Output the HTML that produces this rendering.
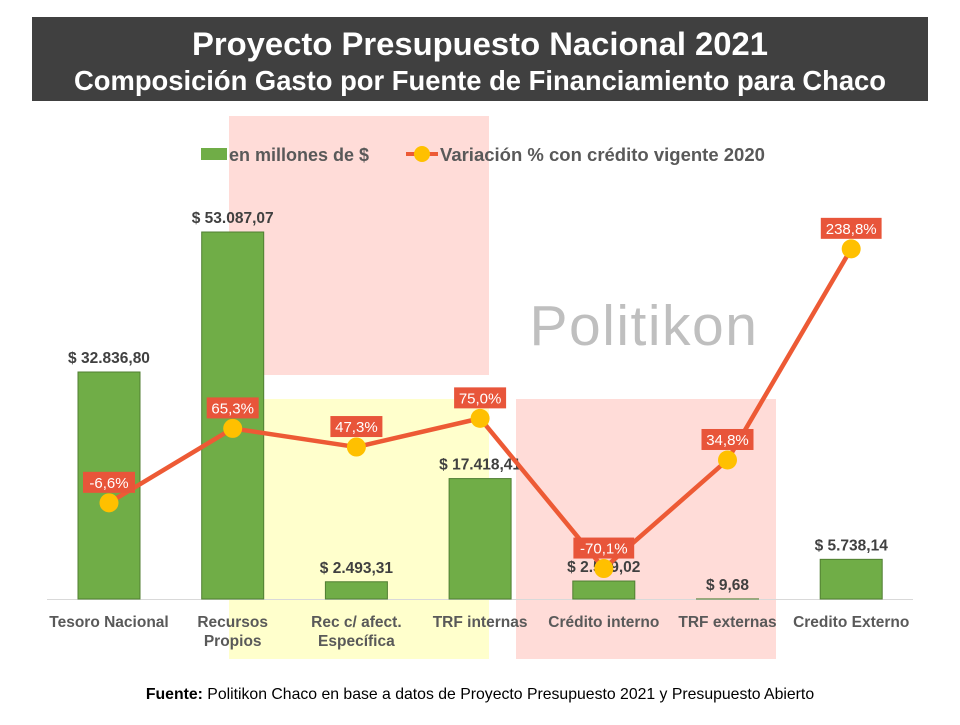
<!DOCTYPE html>
<html><head><meta charset="utf-8"><style>
body{margin:0;background:#fff;font-family:"Liberation Sans",sans-serif}
svg text{font-family:"Liberation Sans",sans-serif}
</style></head><body>
<svg id="c" width="960" height="720" xmlns="http://www.w3.org/2000/svg">
<rect x="229" y="116" width="260" height="259" fill="#ffdcd8"/>
<rect x="229" y="399" width="260" height="260" fill="#ffffcc"/>
<rect x="516" y="399" width="260" height="260" fill="#ffdcd8"/>
<text x="644" y="345" font-size="57" letter-spacing="1.5" fill="#bfbfbf" text-anchor="middle">Politikon</text>
<rect x="32" y="17" width="896" height="84" fill="#404040"/>
<text x="480" y="55" font-size="32.5" font-weight="bold" fill="#fff" text-anchor="middle" textLength="576" lengthAdjust="spacingAndGlyphs">Proyecto Presupuesto Nacional 2021</text>
<text x="480" y="90" font-size="27.4" font-weight="bold" fill="#fff" text-anchor="middle" textLength="812" lengthAdjust="spacingAndGlyphs">Composición Gasto por Fuente de Financiamiento para Chaco</text>
<g>
<rect x="201" y="148" width="26" height="12" fill="#70ad47"/>
<text x="229" y="161" font-size="18" font-weight="bold" fill="#595959">en millones de $</text>
<line x1="406" y1="154" x2="438" y2="154" stroke="#ed5a35" stroke-width="4"/>
<circle cx="422" cy="154" r="8" fill="#ffc000"/>
<text x="440" y="161" font-size="18.5" font-weight="bold" fill="#595959">Variación % con crédito vigente 2020</text>
</g>
<line x1="47" y1="599.5" x2="913" y2="599.5" stroke="#d9d9d9" stroke-width="1"/>
<g id="bars"></g><g id="line"></g><g id="xl"></g>
<text x="480" y="699" font-size="15.8" fill="#000" text-anchor="middle"><tspan font-weight="bold">Fuente:</tspan> Politikon Chaco en base a datos de Proyecto Presupuesto 2021 y Presupuesto Abierto</text>
</svg>
<script>
const categories=[["Tesoro Nacional"],["Recursos","Propios"],["Rec c/ afect.","Específica"],["TRF internas"],["Crédito interno"],["TRF externas"],["Credito Externo"]];
const amounts=[32836.80,53087.07,2493.31,17418.41,2599.02,9.68,5738.14];
const amountLabels=["$ 32.836,80","$ 53.087,07","$ 2.493,31","$ 17.418,41","$ 2.599,02","$ 9,68","$ 5.738,14"];
const variation=[-6.6,65.3,47.3,75.0,-70.1,34.8,238.8];
const variationLabels=["-6,6%","65,3%","47,3%","75,0%","-70,1%","34,8%","238,8%"];
const NS="http://www.w3.org/2000/svg";
const xs=i=>109+i*123.7;
const yBar=v=>599-v*0.006913;
const yLine=v=>496-v*1.035;
function mk(t,a,p){const e=document.createElementNS(NS,t);for(const k in a)e.setAttribute(k,a[k]);p.appendChild(e);return e;}
const bars=document.getElementById('bars'),line=document.getElementById('line'),xl=document.getElementById('xl');
amounts.forEach((v,i)=>{
 const y=yBar(v);
 const r=mk('rect',{x:xs(i)-31,y:y,width:62,height:599-y,fill:'#70ad47',stroke:'#507e32','stroke-width':1},bars);
 
 
 const t=mk('text',{x:xs(i),y:y-9,'font-size':15.5,'font-weight':'bold',fill:'#404040','text-anchor':'middle'},bars);
 t.textContent=amountLabels[i];
 
 
 categories[i].forEach((s,j)=>{
  const c=mk('text',{x:xs(i),y:627+j*19,'font-size':15.5,'font-weight':'bold',fill:'#595959','text-anchor':'middle'},xl);
  c.textContent=s;
  
  
 });
});
const pl=mk('polyline',{points:variation.map((v,i)=>xs(i)+','+yLine(v)).join(' '),fill:'none',stroke:'#ed5a35','stroke-width':4.5,'stroke-linejoin':'round'},line);


variation.forEach((v,i)=>{
 const y=yLine(v);
 const c=mk('circle',{cx:xs(i),cy:y,r:9.5,fill:'#ffc000'},line);
 
 
});
variation.forEach((v,i)=>{
 const y=yLine(v);
 const w=variationLabels[i].length*8.8+8;
 const b=mk('rect',{x:xs(i)-w/2,y:y-31,width:w,height:21,fill:'#e8553a'},line);
 
 
 const t=mk('text',{x:xs(i),y:y-15,'font-size':15,fill:'#fff','text-anchor':'middle'},line);
 t.textContent=variationLabels[i];
 
 
});
</script>
</body></html>
